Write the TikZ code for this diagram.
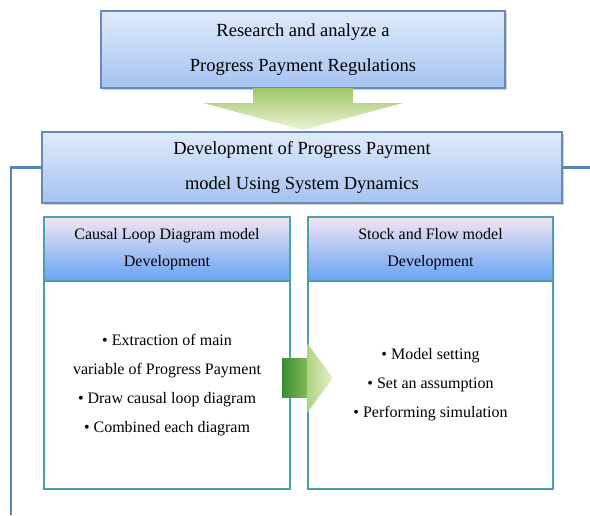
\documentclass[tikz,border=0pt]{standalone}
\usepackage{fontspec}
\setmainfont{Liberation Serif}
\usetikzlibrary{positioning, shadows}
\usepackage{xcolor}

\definecolor{stageline}{RGB}{104,138,186}
\definecolor{stagetop}{RGB}{224,235,252}
\definecolor{stagebot}{RGB}{164,195,241}
\definecolor{headtop}{RGB}{242,230,241}
\definecolor{headbot}{RGB}{102,163,245}
\definecolor{tealline}{RGB}{74,162,174}
\definecolor{linkblue}{RGB}{88,132,176}

\begin{document}
\begin{tikzpicture}[x=1pt,y=-1pt,node distance=14pt]
  \tikzstyle{stage}=[draw=stageline, line width=1.2pt, outer sep=0pt,
    top color=stagetop, bottom color=stagebot,
    drop shadow={opacity=0.35, shadow xshift=1.5pt, shadow yshift=-2pt},
    align=center, font=\fontsize{18.5}{34.5}\selectfont]
  \tikzstyle{head}=[draw=tealline, line width=1.8pt, outer sep=0pt,
    top color=headtop, bottom color=headbot, minimum height=64pt,
    align=center, font=\fontsize{16}{27}\selectfont]
  \tikzstyle{body}=[draw=tealline, line width=1.8pt, outer sep=0pt, fill=white,
    minimum height=208pt, align=center, font=\fontsize{16}{29}\selectfont]
  \tikzstyle{link}=[draw=linkblue, line width=2.5pt]

  \useasboundingbox[fill=white] (0,0) rectangle (590,515);

  \node[stage, minimum width=404pt, minimum height=77pt] (research) at (303,49.5)
    {Research and analyze a\\Progress Payment Regulations};

  % green arrow down to the model box
  \path[top color={rgb,255:red,160;green,198;blue,104}, bottom color={rgb,255:red,236;green,243;blue,214}]
    (research.south) ++(-50,0) -- ++(0,15) -- ++(-50,0) -- ++(100,27)
    -- ++(100,-27) -- ++(-50,0) -- ++(0,-15) -- cycle;

  \node[stage, minimum width=520pt, minimum height=71pt] (develop) at (302,167.5)
    {Development of Progress Payment\\model Using System Dynamics};

  \node[head, minimum width=246pt] (cldhead) at (167,249)
    {Causal Loop Diagram model\\Development};
  \node[body, minimum width=246pt] (cldbody) [below=0pt of cldhead]
    {\textbullet{} Extraction of main\\variable of Progress Payment\\
     \textbullet{} Draw causal loop diagram\\\textbullet{} Combined each diagram};

  \node[head, minimum width=245pt] (sfdhead) at (430.5,249)
    {Stock and Flow model\\Development};
  \node[body, minimum width=245pt] (sfdbody) [below=0pt of sfdhead]
    {\textbullet{} Model setting\\\textbullet{} Set an assumption\\
     \textbullet{} Performing simulation};

  % green arrow between the two models
  \path[shift={(cldbody.east)}, left color={rgb,255:red,58;green,140;blue,52},
    right color={rgb,255:red,128;green,186;blue,88}]
    (-8,-27) -- (17,-27) -- (17,12) -- (-8,12) -- cycle;
  \path[shift={(cldbody.east)}, left color={rgb,255:red,176;green,210;blue,128},
    right color={rgb,255:red,232;green,241;blue,206}]
    (17,-42) -- (43,-7) -- (17,28) -- cycle;

  \coordinate (leftfoot) at (11,515);
  \coordinate (rightend) at (590,167.5);
  \draw[link] (develop.west) -| (leftfoot);
  \draw[link] (develop.east) -- (rightend);
\end{tikzpicture}
\end{document}
